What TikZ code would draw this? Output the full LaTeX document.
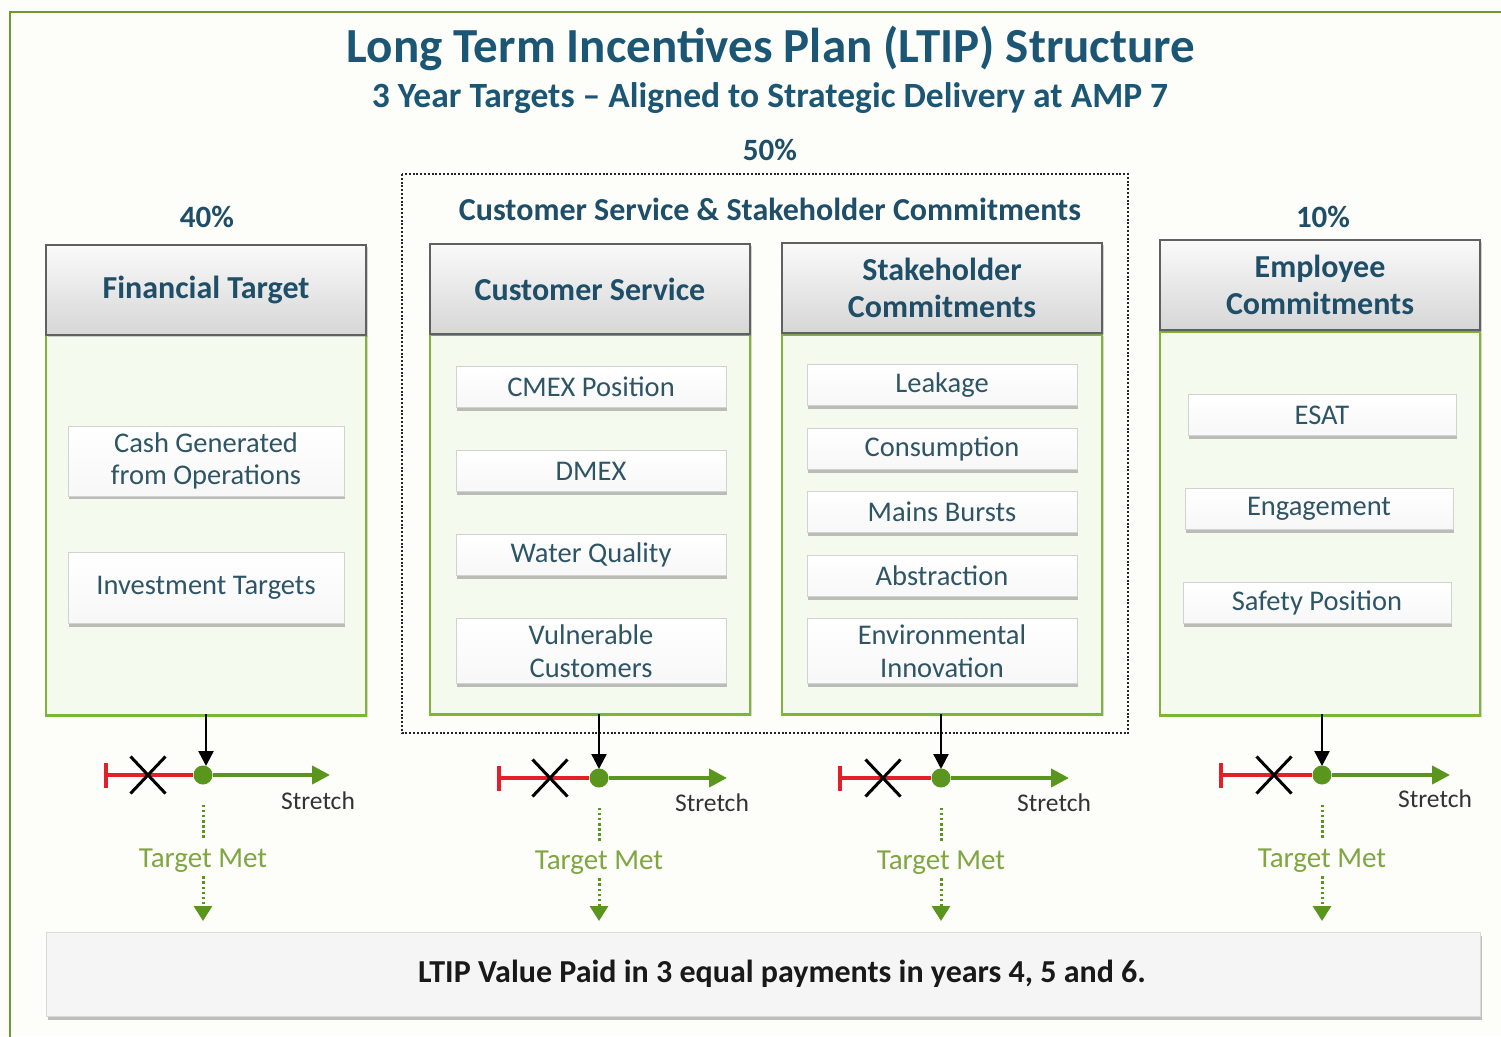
\documentclass[tikz,border=0pt]{standalone}
\usepackage{fontspec}
\setmainfont{Carlito}
\usetikzlibrary{shadows,arrows.meta,shapes.misc}
\definecolor{frameC}{HTML}{6E9A2E}
\definecolor{titleC}{HTML}{1B5675}
\definecolor{headC}{HTML}{1E4E68}
\definecolor{itemC}{HTML}{2E5566}
\definecolor{bodyG}{HTML}{F5FAEE}
\definecolor{bodyB}{HTML}{7DB536}
\definecolor{bgC}{HTML}{FDFEF9}
\definecolor{arrG}{HTML}{5A961E}
\definecolor{metC}{HTML}{7FA640}
\definecolor{redC}{HTML}{E3202A}
\newcommand{\fs}[1]{\fontsize{#1}{\dimexpr #1pt*23/20\relax}\selectfont}
\tikzset{
  headbox/.style={draw=gray!75!black, line width=1.5pt, top color=gray!4, bottom color=gray!32,
    minimum width=320pt, minimum height=90pt, align=center, text=headC,
    font=\fs{32}\bfseries, drop shadow={shadow xshift=1.5pt, shadow yshift=-2pt, opacity=0.35}},
  bodybox/.style={draw=bodyB, line width=2.5pt, fill=bodyG, minimum width=320pt, anchor=north,
    drop shadow={shadow xshift=1.5pt, shadow yshift=-2pt, opacity=0.3}},
  itembox/.style={draw=gray!35, line width=1pt, top color=white, bottom color=gray!6,
    minimum width=270pt, minimum height=41pt, align=center, text=itemC, font=\fs{28.5},
    inner sep=1pt, drop shadow={shadow xshift=1pt, shadow yshift=-3pt, opacity=0.5}},
  pct/.style={text=headC, font=\fs{31}\bfseries},
  blkarrow/.style={-{Triangle[length=15pt,width=15pt]}, line width=2.5pt, black},
  redline/.style={{Bar[width=25pt,line width=4pt]}-, line width=4pt, redC},
  greenline/.style={-{Triangle[length=18pt,width=18pt]}, line width=4pt, arrG},
  dotn/.style={circle, fill=arrG, minimum size=19pt, inner sep=0pt},
  xmark/.style={cross out, draw=black, line width=3pt, minimum width=32pt, minimum height=34pt, inner sep=0pt},
  stretchlbl/.style={text=black!80, font=\fs{25.5}},
  metlbl/.style={text=metC, font=\fs{29}},
  dotline/.style={arrG, line width=3pt, dash pattern=on 2.5pt off 2.6pt},
  dotarrow/.style={dotline, -{Triangle[length=15pt,width=18pt]}},
}
\begin{document}
\begin{tikzpicture}[x=1pt,y=-1pt]
\fill[bgC] (0,0) rectangle (1501,1036);
\useasboundingbox (0,0) rectangle (1501,1036);
\draw[frameC, line width=2.5pt] (10,1040) -- (10,12) -- (1505,12);

% titles
\node[text=titleC, font=\fs{49}\bfseries] (title) at (771,48) {Long Term Incentives Plan (LTIP) Structure};
\node[text=titleC, font=\fs{35.5}\bfseries] (subtitle) at (770,98) {3 Year Targets -- Aligned to Strategic Delivery at AMP 7};

% dotted group
\draw[black!85, line width=2pt, dash pattern=on 2pt off 1.8pt] (402,174) rectangle (1128,733);
\node[pct] (p50) at (770,150) {50\%};
\node[pct, font=\fs{32}\bfseries] (grp) at (770,209) {Customer Service \& Stakeholder Commitments};
\node[pct] (p40) at (207,217) {40\%};
\node[pct] (p10) at (1323,217) {10\%};

% bodies
\node[bodybox, minimum height=381pt] (fb) at (206,333) {};
\node[bodybox, minimum height=380pt] (cb) at (590,333) {};
\node[bodybox, minimum height=380pt] (sb) at (942,333) {};
\node[bodybox, minimum height=384pt] (eb) at (1320,330) {};

% headers
\node[headbox] (fh) at (206,290) {Financial Target};
\node[headbox] (ch) at (590,289) {Customer Service};
\node[headbox] (sh) at (942,288) {Stakeholder\\Commitments};
\node[headbox] (eh) at (1320,285) {Employee\\Commitments};

% items
\node[itembox, minimum width=276pt, minimum height=70pt] (f1) at (206,461) {Cash Generated\\from Operations};
\node[itembox, minimum width=276pt, minimum height=71pt] (f2) at (206,588) {Investment Targets};

\node[itembox] (c1) at (591,387) {CMEX Position};
\node[itembox] (c2) at (591,471) {DMEX};
\node[itembox] (c3) at (591,555) {Water Quality};
\node[itembox, minimum height=65pt] (c4) at (591,651) {Vulnerable\\Customers};

\node[itembox] (s1) at (942,385) {Leakage};
\node[itembox] (s2) at (942,449) {Consumption};
\node[itembox] (s3) at (942,512) {Mains Bursts};
\node[itembox] (s4) at (942,576) {Abstraction};
\node[itembox, minimum height=65pt] (s5) at (942,651) {Environmental\\Innovation};

\node[itembox, minimum width=268pt] (e1) at (1322,415) {ESAT};
\node[itembox, minimum width=268pt] (e2) at (1319,509) {Engagement};
\node[itembox, minimum width=268pt] (e3) at (1317,603) {Safety Position};

% bottom box
\node[draw=gray!30, line width=1pt, fill=gray!8, minimum width=1434pt, minimum height=84pt,
  font=\fs{32}\bfseries, text=black!90,
  drop shadow={shadow xshift=2pt, shadow yshift=-4pt, opacity=0.5}] (ltip) at (763,974)
  {\hspace*{38pt}LTIP Value Paid in 3 equal payments in years 4, 5 and 6.};

% meters
\foreach \n/\cx/\cy/\bx/\rx/\xx/\gx/\sx/\sy/\ty in {
  f/203/775/206/104/148/330/318/801/861,
  c/599/778/599/497/550/727/712/803/863,
  s/941/778/941/838/883/1069/1054/803/863,
  e/1322/775/1322/1219/1274/1450/1435/799/861}{
  \coordinate (\n top) at (\bx,714);
  \node[dotn] (\n dot) at (\cx,\cy) {};
  \coordinate (\n red) at (\rx,\cy);
  \coordinate (\n grn) at (\gx,\cy);
  \coordinate (\n end) at (\cx,921);
  \node[stretchlbl] (\n str) at (\sx,\sy) {Stretch};
  \node[metlbl] (\n met) at (\cx,\ty) {Target Met};
  \draw[blkarrow, shorten >=9pt] (\n top) -- (\n top |- \n dot);
  \draw[redline] (\n red) -- (\n dot.west);
  \node[xmark] (\n x) at (\xx,\cy) {};
  \draw[greenline] (\n dot.east) -- (\n grn);
  \draw[dotline, shorten <=20pt, shorten >=6pt] (\n dot) -- (\n met.north);
  \draw[dotarrow] (\n met.south) -- (\n end);
}
\end{tikzpicture}
\end{document}
